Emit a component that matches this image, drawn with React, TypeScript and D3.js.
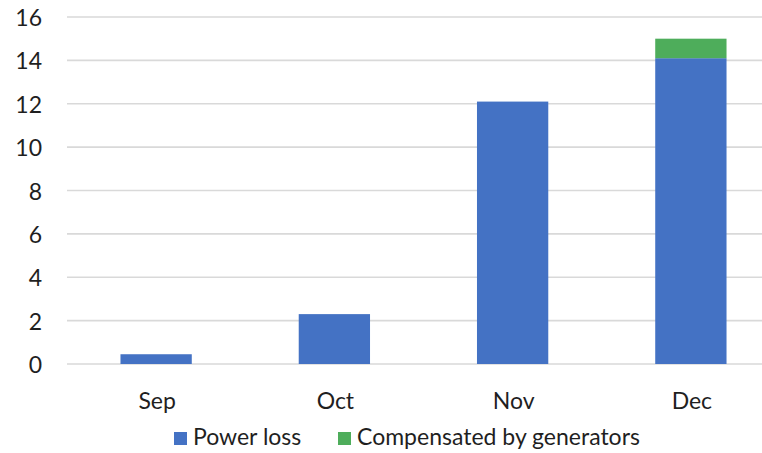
import React from "react";
import * as d3 from "d3";

const months = ["Sep", "Oct", "Nov", "Dec"];
const powerLoss = [0.45, 2.3, 12.1, 14.1];
const compensated = [0, 0, 0, 0.9];
const yTicks = [0, 2, 4, 6, 8, 10, 12, 14, 16];
const seriesNames = ["Power loss", "Compensated by generators"];
const seriesColors = ["#4472C4", "#4EAD5B"];

const W = 762;
const H = 453;
const FONT = "Lato, 'Open Sans', sans-serif";
const TEXT = "#1f1f1f";

export default function App() {
  const x = d3
    .scaleBand<string>()
    .domain(months)
    .range([67, 780])
    .paddingInner(0.6)
    .paddingOuter(0.3);
  const y = d3.scaleLinear().domain([0, 16]).range([364, 17]);

  const stackData = months.map((m, i) => ({
    month: m,
    loss: powerLoss[i],
    comp: compensated[i],
  }));
  const stacked = d3.stack<any>().keys(["loss", "comp"])(stackData);

  const legendItems = [
    { name: seriesNames[0], color: seriesColors[0], x: 174 },
    { name: seriesNames[1], color: seriesColors[1], x: 338 },
  ];

  return (
    <svg
      width={W}
      height={H}
      style={{ position: "fixed", left: 0, top: 0, background: "#fff" }}
      fontFamily={FONT}
    >
      <rect width={W} height={H} fill="#fff" />
      {yTicks.map((t) => (
        <g key={t}>
          <line x1={67} x2={W} y1={y(t)} y2={y(t)} stroke="#D9D9D9" strokeWidth={1.6} />
          <text
            x={42}
            y={y(t)}
            textAnchor="end"
            dominantBaseline="central"
            fontSize={23}
            fill={TEXT}
          >
            {t}
          </text>
        </g>
      ))}
      {stacked.map((s, si) => (
        <g key={si} fill={seriesColors[si]}>
          {s.map((d, i) =>
            d[1] - d[0] > 0 ? (
              <rect
                key={i}
                x={x(months[i])}
                y={y(d[1])}
                width={x.bandwidth()}
                height={y(d[0]) - y(d[1])}
              />
            ) : null
          )}
        </g>
      ))}
      {months.map((m) => (
        <text
          key={m}
          x={(x(m) as number) + x.bandwidth() / 2 + 1}
          y={409}
          textAnchor="middle"
          fontSize={23}
          fill={TEXT}
        >
          {m}
        </text>
      ))}
      {legendItems.map((l) => (
        <g key={l.name}>
          <rect x={l.x} y={432} width={13} height={13} fill={l.color} />
          <text x={l.x + 19} y={445} fontSize={23} fill={TEXT}>
            {l.name}
          </text>
        </g>
      ))}
    </svg>
  );
}
